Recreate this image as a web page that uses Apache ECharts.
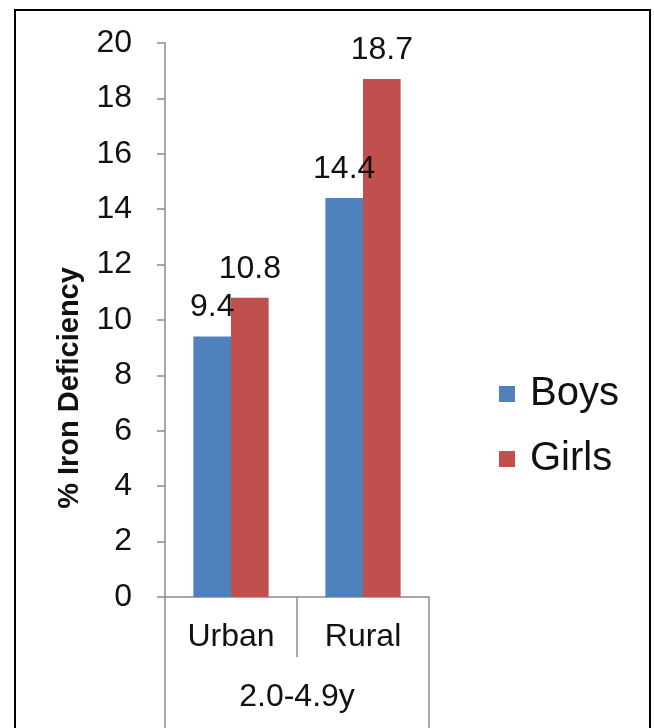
<!DOCTYPE html>
<html>
<head>
<meta charset="utf-8">
<script src="https://cdn.jsdelivr.net/npm/echarts@6/dist/echarts.min.js"></script>
<style>
html,body{margin:0;padding:0;background:#fff;}
#chart{width:654px;height:728px;}
</style>
</head>
<body>
<div id="chart"></div>
<script>
var categories = ['Urban', 'Rural'];
var groupLabel = ['2.0-4.9y'];
var boys = [9.4, 14.4];
var girls = [10.8, 18.7];
var seriesNames = ['Boys', 'Girls'];
var yTitle = '% Iron Deficiency';

var FONT = 'Liberation Sans, Arial, sans-serif';
var chart = echarts.init(document.getElementById('chart'));
var labelCfg = {
  show: true, position: 'top', distance: 13,
  color: '#111', fontSize: 32, fontFamily: FONT
};
chart.setOption({
  animation: false,
  backgroundColor: '#fff',
  grid: { left: 165, right: 225, top: 43, bottom: 131, containLabel: false },
  legend: {
    orient: 'vertical', left: 494, top: 369,
    itemWidth: 16, itemHeight: 16, itemGap: 25, icon: 'rect',
    data: seriesNames,
    textStyle: { fontSize: 40, color: '#111', fontFamily: FONT, padding: [0, 0, 0, 10] }
  },
  xAxis: [
    {
      type: 'category', data: categories, position: 'bottom',
      axisLine: { lineStyle: { color: '#8c8c8c', width: 1.5 } },
      axisTick: { show: true, alignWithLabel: false, interval: 0, length: 60, lineStyle: { color: '#8c8c8c', width: 1.5 } },
      axisLabel: { fontSize: 32, color: '#111', fontFamily: FONT, margin: 24 }
    },
    {
      type: 'category', data: groupLabel, position: 'bottom',
      axisLine: { show: false },
      axisTick: { show: true, interval: 0, length: 140, lineStyle: { color: '#8c8c8c', width: 1.5 } },
      axisLabel: { fontSize: 32, color: '#111', fontFamily: FONT, margin: 84 }
    }
  ],
  yAxis: {
    type: 'value', min: 0, max: 20, interval: 2,
    splitLine: { show: false },
    axisLine: { show: true, lineStyle: { color: '#8c8c8c', width: 1.5 } },
    axisTick: { show: true, length: 8, lineStyle: { color: '#8c8c8c', width: 1.5 } },
    axisLabel: { fontSize: 32, color: '#111', fontFamily: FONT, margin: 33 }
  },
  series: [
    { name: seriesNames[0], type: 'bar', xAxisIndex: 0, data: boys, barGap: '0%', barCategoryGap: '43%',
      itemStyle: { color: '#4F81BD' }, label: labelCfg },
    { name: seriesNames[1], type: 'bar', xAxisIndex: 0, data: girls, barGap: '0%', barCategoryGap: '43%',
      itemStyle: { color: '#C0504D' }, label: labelCfg }
  ],
  graphic: [
    { type: 'rect', shape: { x: 15, y: 10, width: 635, height: 740 },
      style: { fill: 'none', stroke: '#000', lineWidth: 2 }, silent: true },
    { type: 'text', x: 70, y: 388, rotation: Math.PI / 2,
      style: { text: yTitle, fontSize: 29, fontWeight: 'bold', fontFamily: FONT, fill: '#111',
        textAlign: 'center', textVerticalAlign: 'middle' } }
  ]
});
</script>
</body>
</html>
